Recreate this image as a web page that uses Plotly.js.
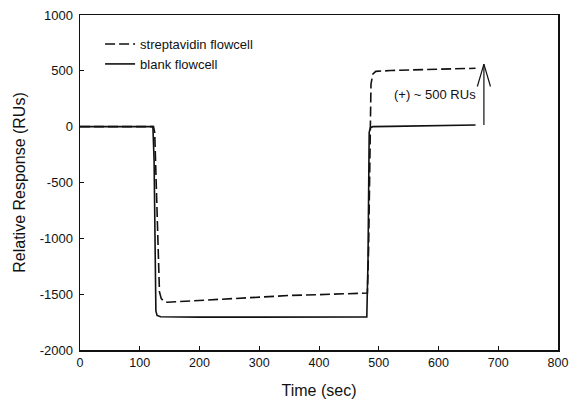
<!DOCTYPE html>
<html>
<head>
<meta charset="utf-8">
<script src="https://cdn.plot.ly/plotly-3.0.1.min.js"></script>
<style>html,body{margin:0;padding:0;background:#fff;}#chart{width:570px;height:399px;}</style>
</head>
<body>
<div id="chart"></div>
<script>
// ---- data ----
var timeStrep = [0, 60, 123, 125, 127, 129, 131, 133, 136, 140, 146, 160, 200, 250, 300, 350, 400, 450, 481, 483, 485, 487, 490, 495, 520, 560, 600, 640, 662];
var strepValues = [0, 0, 0, -50, -400, -900, -1300, -1480, -1540, -1562, -1572, -1568, -1556, -1540, -1524, -1512, -1504, -1496, -1490, -1100, -100, 380, 470, 495, 503, 510, 515, 520, 523];

var timeBlank = [0, 60, 122, 124, 126, 127, 129, 135, 200, 300, 400, 480, 482, 483, 484, 486, 490, 520, 580, 620, 662];
var blankValues = [0, 0, 0, -300, -1300, -1650, -1690, -1702, -1706, -1706, -1705, -1705, -1200, -300, -50, -10, 0, 3, 8, 12, 15];

var seriesNames = ['streptavidin flowcell', 'blank flowcell'];

var xTicks = [0, 100, 200, 300, 400, 500, 600, 700, 800];
var yTicks = [-2000, -1500, -1000, -500, 0, 500, 1000];

// arrow annotation (data units)
var arrowX = 676;
var arrowBase = 15;
var arrowTip = 560;
var arrowLabel = '(+) ~ 500 RUs';
var arrowLabelX = 594;
var arrowLabelY = 284;

// ---- figure ----
var font = 'Arial, "Liberation Sans", Helvetica, sans-serif';
var headHalfW = 11;   // data units (sec)
var headLen = 200;    // data units (RU)

var traces = [
  {x: timeStrep, y: strepValues, name: seriesNames[0], mode: 'lines',
   line: {color: '#111', width: 1.6, dash: '10px,4px'}},
  {x: timeBlank, y: blankValues, name: seriesNames[1], mode: 'lines',
   line: {color: '#111', width: 1.6}},
  {x: [arrowX, arrowX, null, arrowX - headHalfW, arrowX, arrowX + headHalfW],
   y: [arrowBase, arrowTip, null, arrowTip - headLen, arrowTip, arrowTip - headLen],
   mode: 'lines', showlegend: false, hoverinfo: 'skip',
   line: {color: '#111', width: 1.2}}
];

var layout = {
  width: 570, height: 399,
  margin: {l: 80, r: 12, t: 15, b: 49},
  paper_bgcolor: '#fff', plot_bgcolor: '#fff',
  font: {family: font, color: '#111', size: 12},
  showlegend: true,
  legend: {x: 0.042, y: 0.958, xanchor: 'left', yanchor: 'top',
           bgcolor: 'rgba(0,0,0,0)', font: {size: 13, family: font, color: '#111'},
           tracegroupgap: 0},
  xaxis: {range: [0, 800], tickvals: xTicks, ticktext: xTicks.map(String),
          ticks: 'inside', ticklen: 4, tickwidth: 1, tickcolor: '#111',
          showline: true, linecolor: '#111', linewidth: 1.5, mirror: true,
          showgrid: false, zeroline: false,
          tickfont: {size: 12.5, family: font, color: '#111'},
          title: {text: 'Time (sec)', font: {size: 16, family: font, color: '#111'}, standoff: 17}},
  yaxis: {range: [-2000, 1000], tickvals: yTicks, ticktext: yTicks.map(String),
          ticks: 'inside', ticklen: 4, tickwidth: 1, tickcolor: '#111',
          showline: true, linecolor: '#111', linewidth: 1.5, mirror: true,
          showgrid: false, zeroline: false, ticklabelstandoff: 3,
          tickfont: {size: 13, family: font, color: '#111'},
          title: {text: 'Relative Response (RUs)', font: {size: 16, family: font, color: '#111'}, standoff: 10}},
  annotations: [
    {x: arrowLabelX, y: arrowLabelY, xref: 'x', yref: 'y', text: arrowLabel,
     showarrow: false, font: {size: 13, family: font, color: '#111'}}
  ]
};

Plotly.newPlot('chart', traces, layout, {displayModeBar: false, staticPlot: true});
</script>
</body>
</html>
